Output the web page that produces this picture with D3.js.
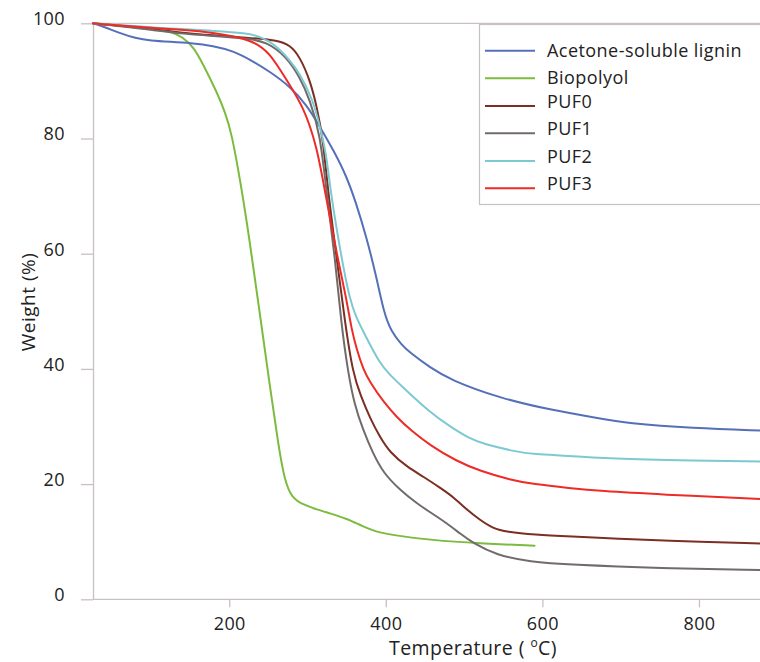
<!DOCTYPE html>
<html>
<head>
<meta charset="utf-8">
<script src="https://cdn.jsdelivr.net/npm/d3@7"></script>
<style>
  html, body { margin: 0; padding: 0; background: #fff; }
  svg { display: block; }
  text { font-family: "Open Sans", "Liberation Sans", sans-serif; fill: #222; }
</style>
</head>
<body>
<svg id="chart" width="760" height="662"></svg>
<script>
// ---------- data (temperature °C, weight %) ----------
const seriesNames = ["Acetone-soluble lignin", "Biopolyol", "PUF0", "PUF1", "PUF2", "PUF3"];
const seriesColors = ["#5470b8", "#7bbb3e", "#7b2e22", "#716b69", "#7cc9d2", "#ee2b27"];

const lignin = [[26,100],[40,99.4],[60,98.3],[80,97.4],[100,97.0],[125,96.8],[150,96.6],[180,96.1],[205,95.2],[228,93.6],[252,91.6],[278,89.0],[299,85.8],[316,82.0],[333,78.0],[350,73.4],[362,68.8],[375,63.0],[388,56.0],[398,49.5],[407,46.5],[420,44.2],[431,42.8],[456,40.3],[482,38.1],[546,34.9],[610,32.9],[673,31.4],[707,30.6],[792,29.7],[880,29.3]];
const biopolyol = [[26,100],[60,99.6],[100,99.0],[128,98.5],[140,97.6],[154,96.0],[167,92.8],[184,88.1],[195,84.5],[203,80.9],[214,72.8],[226,62.4],[239,49.7],[252,36.9],[263,26.5],[271,20.5],[280,17.6],[295,16.4],[312,15.6],[329,14.9],[350,14.0],[370,12.7],[392,11.5],[418,11.0],[456,10.3],[520,9.7],[590,9.3]];
const puf0 = [[26,100],[60,99.6],[100,99.0],[137,98.4],[180,97.9],[222,97.5],[261,97.1],[278,96.2],[290,94.2],[303,90.2],[312,85.5],[320,79.7],[326,71.0],[337,59.5],[348,47.9],[358,39.2],[368,35.3],[380,31.4],[392,28.3],[405,25.5],[428,22.9],[448,21.3],[470,19.3],[486,17.8],[503,15.6],[520,13.8],[537,12.3],[554,11.7],[590,11.2],[635,10.9],[700,10.5],[750,10.2],[880,9.7]];
const puf1 = [[26,100],[60,99.5],[100,98.9],[137,98.2],[180,97.8],[222,97.4],[248,96.8],[273,94.2],[290,90.7],[303,86.7],[316,80.9],[324,71.0],[335,59.5],[343,47.9],[352,39.2],[360,33.8],[371,29.4],[383,25.5],[397,21.9],[418,19.0],[439,16.7],[458,15.0],[478,13.2],[495,11.4],[512,9.7],[541,7.7],[584,6.5],[635,6.0],[750,5.4],[880,5.1]];
const puf2 = [[26,100],[60,99.7],[100,99.3],[137,99.0],[180,98.7],[222,98.3],[239,97.7],[252,96.8],[265,95.4],[278,93.5],[290,91.3],[307,86.7],[316,82.0],[324,77.4],[329,71.1],[343,59.5],[354,52.0],[362,49.0],[373,46.0],[392,41.0],[405,39.0],[418,37.3],[456,32.5],[482,30.0],[507,27.9],[524,27.0],[567,25.6],[588,25.2],[635,24.9],[673,24.5],[750,24.2],[880,23.9]];
const puf3 = [[26,100],[60,99.6],[100,99.2],[137,98.9],[180,98.4],[231,97.1],[252,94.8],[273,90.2],[295,85.5],[312,78.6],[322,71.0],[338,59.5],[350,52.0],[356,47.0],[363,43.3],[371,40.0],[380,37.6],[397,34.3],[414,31.6],[433,29.2],[456,26.8],[490,24.0],[520,22.3],[560,20.7],[588,20.0],[635,19.3],[673,18.8],[750,18.2],[880,17.4]];

const seriesData = [lignin, biopolyol, puf0, puf1, puf2, puf3];

const yTicks = [0, 20, 40, 60, 80, 100];
const xTicks = [200, 400, 600, 800];

// ---------- layout ----------
const svg = d3.select("#chart");
const x = d3.scaleLinear().domain([26, 880]).range([93, 761.6]);
const y = d3.scaleLinear().domain([0, 100]).range([599.3, 23.3]);
const axisColor = "#c9c1c1";

// top border line at 100
svg.append("line")
  .attr("x1", x(26)).attr("x2", 760)
  .attr("y1", y(100)).attr("y2", y(100))
  .attr("stroke", axisColor).attr("stroke-width", 1.3);

// y axis
const yAxis = svg.append("g")
  .attr("transform", `translate(${x(26)},0)`)
  .call(d3.axisLeft(y).tickValues(yTicks).tickSize(12).tickPadding(16).tickSizeOuter(0));
yAxis.select(".domain").attr("stroke", axisColor).attr("stroke-width", 1.3);
yAxis.selectAll(".tick line").attr("stroke", axisColor).attr("stroke-width", 1.3);
yAxis.selectAll(".tick text")
  .attr("font-size", 18).attr("dy", "0.08em").attr("letter-spacing", "0.4px")
  .attr("font-family", "'Open Sans', sans-serif").attr("fill", "#222");

// x axis
const xAxis = svg.append("g")
  .attr("transform", `translate(0,${y(0)})`)
  .call(d3.axisBottom(x).tickValues(xTicks).tickSize(8).tickSizeOuter(0));
xAxis.select(".domain").attr("stroke", axisColor).attr("stroke-width", 1.3)
  .attr("d", `M${x(26)},0H760`);
xAxis.selectAll(".tick line").attr("stroke", axisColor).attr("stroke-width", 1.3);
xAxis.selectAll(".tick text")
  .attr("font-size", 18).attr("y", 24).attr("dy", "0.35em").attr("letter-spacing", "0.4px")
  .attr("font-family", "'Open Sans', sans-serif").attr("fill", "#222");

// axis titles
svg.append("text")
  .attr("transform", "translate(28,302) rotate(-90)")
  .attr("text-anchor", "middle").attr("dominant-baseline", "central")
  .attr("font-size", 19).attr("letter-spacing", "0.5px")
  .text("Weight (%)");

const xt = svg.append("text")
  .attr("x", 473).attr("y", 647)
  .attr("text-anchor", "middle").attr("dominant-baseline", "central")
  .attr("font-size", 19.5).attr("letter-spacing", "0.45px");
xt.append("tspan").text("Temperature ( ");
xt.append("tspan").attr("font-size", 12).attr("dy", -5).text("o");
xt.append("tspan").attr("dy", 5).text("C)");

// curves
const line = d3.line()
  .x(d => x(d[0])).y(d => y(d[1]))
  .curve(d3.curveBasis);

const drawOrder = [1, 0, 2, 3, 4, 5];
drawOrder.forEach(i => {
  svg.append("path")
    .datum(seriesData[i])
    .attr("d", line)
    .attr("fill", "none")
    .attr("stroke", seriesColors[i])
    .attr("stroke-width", 2)
    .attr("stroke-linejoin", "round")
    .attr("stroke-linecap", "round");
});

// legend
const lg = svg.append("g");
lg.append("rect")
  .attr("x", 479.5).attr("y", 24.5).attr("width", 300).attr("height", 180)
  .attr("fill", "#fff").attr("stroke", axisColor).attr("stroke-width", 1.2);
const rowY = [50.7, 78.3, 106, 133.3, 161, 188.3];
const textOff = [-0.7, -1, -5.5, -5, -5, -5];
seriesNames.forEach((name, i) => {
  lg.append("line")
    .attr("x1", 485).attr("x2", 535)
    .attr("y1", rowY[i]).attr("y2", rowY[i])
    .attr("stroke", seriesColors[i]).attr("stroke-width", 2);
  lg.append("text")
    .attr("x", 547).attr("y", rowY[i] + textOff[i])
    .attr("dominant-baseline", "central")
    .attr("font-size", 18).attr("letter-spacing", "0.45px")
    .text(name);
});
</script>
</body>
</html>
